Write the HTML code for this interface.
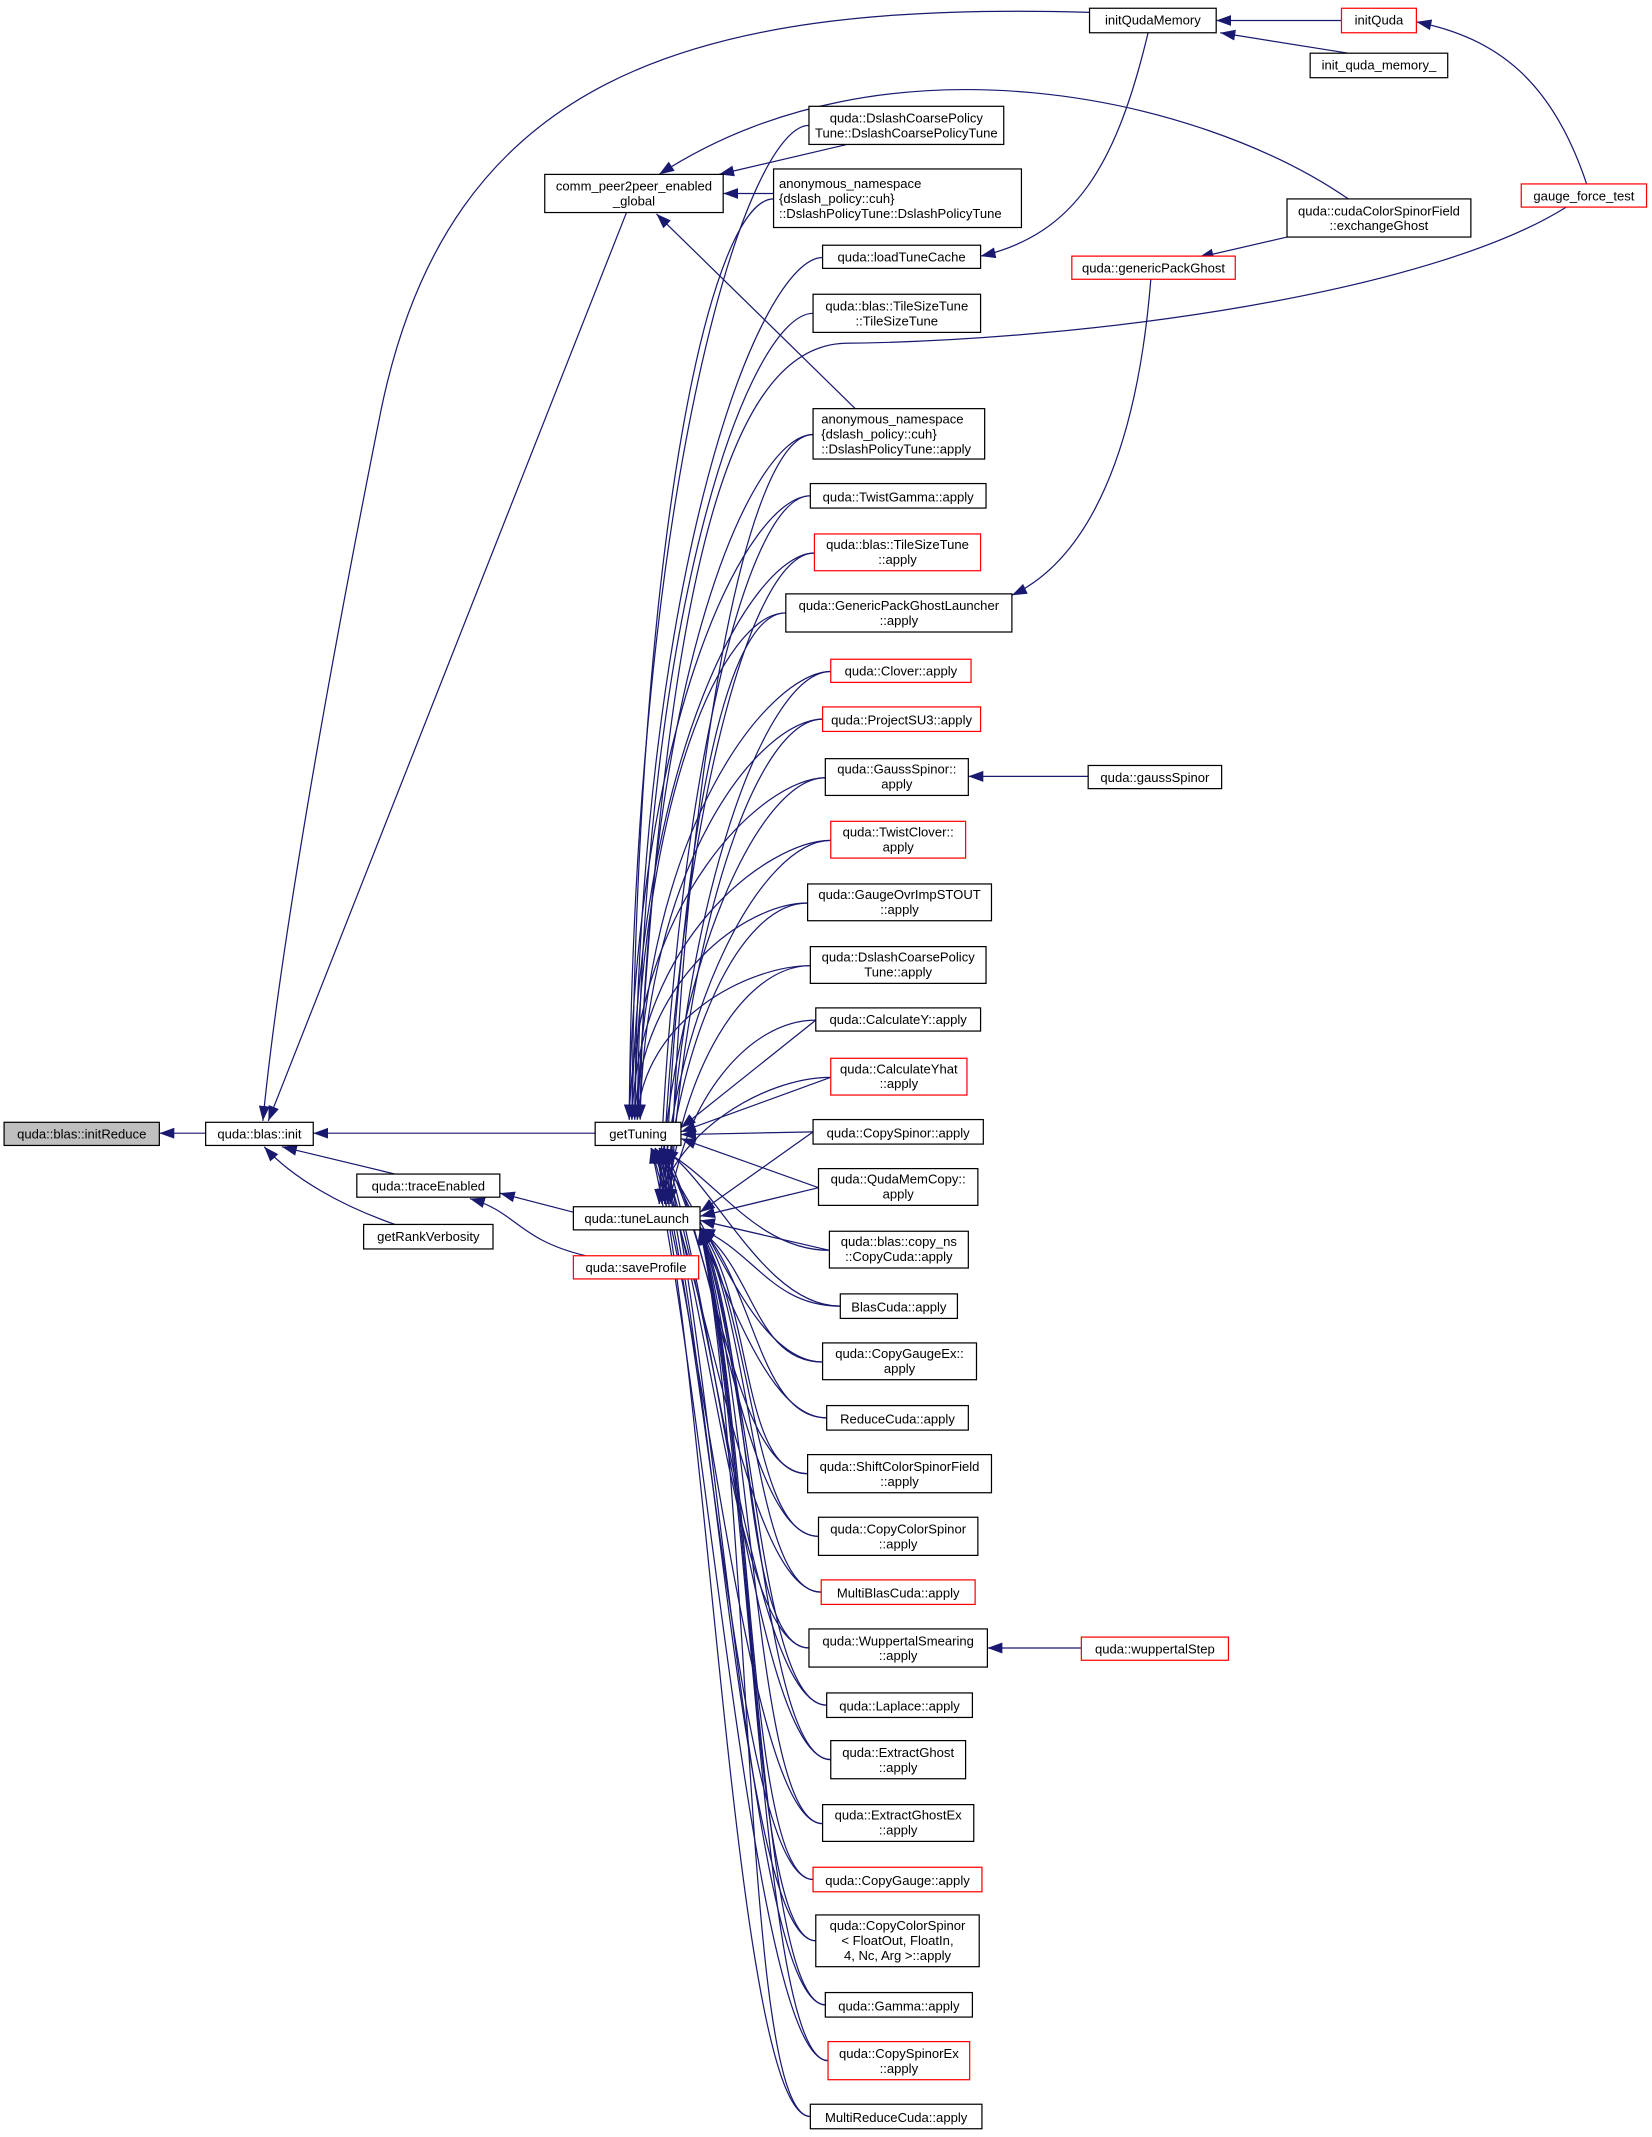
<!DOCTYPE html>
<html><head><meta charset="utf-8"><style>
html,body{margin:0;padding:0;background:#fff;}
svg{display:block;}
text{font-family:"Liberation Sans",Arial,sans-serif;font-size:9.6px;fill:#000;text-anchor:middle;}
text.l{text-anchor:start;}
</style></head><body>
<svg width="1652" height="2137" viewBox="0 0 1213 1569" xmlns="http://www.w3.org/2000/svg">
<defs><marker id="a" markerUnits="userSpaceOnUse" markerWidth="12" markerHeight="10" refX="11" refY="4" orient="auto"><path d="M0,0 L11,4 L0,8 Z" fill="#191970"/></marker></defs>
<g fill="none" stroke="#191970" stroke-width="0.9" marker-end="url(#a)">
<path d="M594,92 C549,92 466,348 462,822"/>
<path d="M568,146 C523,146 468,382 464,822"/>
<path d="M604,189 C559,189 470,410 466,822"/>
<path d="M597,230 C552,230 472,437 468,822"/>
<path d="M597,319 C552,319 474,495 470,822"/>
<path d="M595,364 C550,364 466,524 462,822"/>
<path d="M598,406 C553,406 468,551 464,822"/>
<path d="M577,450 C532,450 470,580 466,822"/>
<path d="M610,493 C565,493 472,608 468,822"/>
<path d="M604,528 C559,528 474,631 470,822"/>
<path d="M606,571 C561,571 466,659 462,822"/>
<path d="M610,617 C565,617 468,688 464,822"/>
<path d="M593,663 C548,663 470,718 466,822"/>
<path d="M595,709 C550,709 472,748 468,822"/>
<path d="M599,749 L500,828"/>
<path d="M610,791 L500,831"/>
<path d="M597,831 L500,833"/>
<path d="M601,872 L500,836"/>
<path d="M609,918 C554,918 524,862 484,843"/>
<path d="M617,959 C562,959 527,872 487,843"/>
<path d="M604,1000 C549,1000 518,882 478,843"/>
<path d="M607,1041 C552,1041 521,892 481,843"/>
<path d="M593,1082 C538,1082 524,903 484,843"/>
<path d="M601,1128 C546,1128 527,914 487,843"/>
<path d="M603,1169 C548,1169 518,925 478,843"/>
<path d="M594,1210 C539,1210 521,935 481,843"/>
<path d="M607,1252 C552,1252 524,945 484,843"/>
<path d="M610,1292 C555,1292 527,955 487,843"/>
<path d="M604,1339 C549,1339 518,967 478,843"/>
<path d="M597,1380 C542,1380 521,977 481,843"/>
<path d="M599,1425 C544,1425 524,989 484,843"/>
<path d="M606,1472 C551,1472 527,1000 487,843"/>
<path d="M608,1513 C553,1513 518,1011 478,843"/>
<path d="M595,1554 C540,1554 521,1021 481,843"/>
<path d="M597,319 C547,319 502,573 492,884"/>
<path d="M595,364 C545,364 494,598 484,884"/>
<path d="M598,406 C548,406 496,621 486,884"/>
<path d="M577,450 C527,450 498,645 488,884"/>
<path d="M610,493 C560,493 500,669 490,884"/>
<path d="M604,528 C554,528 502,688 492,884"/>
<path d="M606,571 C556,571 494,712 484,884"/>
<path d="M610,617 C560,617 496,737 486,884"/>
<path d="M593,663 C543,663 498,762 488,884"/>
<path d="M595,709 C545,709 500,787 490,884"/>
<path d="M599,749 C549,749 502,809 492,884"/>
<path d="M610,791 C560,791 494,833 484,884"/>
<path d="M597,831 L514,890"/>
<path d="M601,872 L514,893"/>
<path d="M609,918 L514,896"/>
<path d="M617,959 C567,959 554,919 514,902"/>
<path d="M604,1000 C554,1000 554,932 514,903"/>
<path d="M607,1041 C557,1041 554,943 514,901"/>
<path d="M593,1082 C543,1082 554,956 514,902"/>
<path d="M601,1128 C551,1128 554,970 514,903"/>
<path d="M603,1169 C553,1169 554,981 514,901"/>
<path d="M594,1210 C544,1210 554,994 514,902"/>
<path d="M607,1252 C557,1252 554,1008 514,903"/>
<path d="M610,1292 C560,1292 554,1018 514,901"/>
<path d="M604,1339 C554,1339 554,1033 514,902"/>
<path d="M597,1380 C547,1380 554,1046 514,903"/>
<path d="M599,1425 C549,1425 554,1058 514,901"/>
<path d="M606,1472 C556,1472 554,1073 514,902"/>
<path d="M608,1513 C558,1513 554,1086 514,903"/>
<path d="M595,1554 C545,1554 554,1097 514,901"/>
<path d="M151,832 L117,832"/>
<path d="M437,832 L230,832"/>
<path d="M290,862 L207,842"/>
<path d="M290,899 C250,885 215,865 194,842"/>
<path d="M460,156 L197,823"/>
<path d="M800,9 C500,0 330,60 280,300 C240,500 205,700 193,823"/>
<path d="M421,890 L367,876"/>
<path d="M430,922 C380,910 380,890 345,880"/>
<path d="M622,106 L528,128"/>
<path d="M568,142 L531,142"/>
<path d="M628,300 L482,157"/>
<path d="M990,146 C880,70 650,20 484,128"/>
<path d="M985,15 L893,15"/>
<path d="M990,39 L896,24"/>
<path d="M1165,135 C1140,60 1100,28 1040,16"/>
<path d="M1150,152 C1050,215 800,250 620,252 C540,255 490,400 468,822"/>
<path d="M843,24 C820,120 790,172 720,188"/>
<path d="M945,174 L880,189"/>
<path d="M845,205 C835,330 800,410 743,437"/>
<path d="M799,570 L711,570"/>
<path d="M794,1210 L725,1210"/>
</g>
<g stroke-width="0.9" fill="#fff" stroke="#000">
<rect x="3" y="824" width="114" height="17" fill="#bfbfbf"/>
<rect x="151" y="824" width="79" height="17"/>
<rect x="437" y="824" width="63" height="17"/>
<rect x="262" y="862" width="105" height="17"/>
<rect x="267" y="899" width="95" height="18"/>
<rect x="421" y="886" width="93" height="17"/>
<rect x="421" y="922" width="92" height="17" stroke="#f00"/>
<rect x="400" y="128" width="131" height="28"/>
<rect x="800" y="6" width="93" height="18"/>
<rect x="985" y="6" width="55" height="18" stroke="#f00"/>
<rect x="962" y="39" width="101" height="18"/>
<rect x="1117" y="135" width="92" height="17" stroke="#f00"/>
<rect x="945" y="146" width="135" height="28"/>
<rect x="787" y="188" width="120" height="17" stroke="#f00"/>
<rect x="799" y="562" width="98" height="17"/>
<rect x="794" y="1202" width="108" height="17" stroke="#f00"/>
<rect x="594" y="78" width="143" height="28"/>
<rect x="568" y="124" width="182" height="43"/>
<rect x="604" y="180" width="116" height="17"/>
<rect x="597" y="216" width="123" height="28"/>
<rect x="597" y="300" width="126" height="37"/>
<rect x="595" y="355" width="129" height="18"/>
<rect x="598" y="392" width="122" height="27" stroke="#f00"/>
<rect x="577" y="436" width="166" height="28"/>
<rect x="610" y="484" width="103" height="17" stroke="#f00"/>
<rect x="604" y="519" width="116" height="18" stroke="#f00"/>
<rect x="606" y="557" width="105" height="27"/>
<rect x="610" y="603" width="99" height="27" stroke="#f00"/>
<rect x="593" y="649" width="135" height="27"/>
<rect x="595" y="695" width="129" height="27"/>
<rect x="599" y="740" width="121" height="17"/>
<rect x="610" y="777" width="100" height="27" stroke="#f00"/>
<rect x="597" y="822" width="125" height="18"/>
<rect x="601" y="858" width="117" height="27"/>
<rect x="609" y="904" width="102" height="27"/>
<rect x="617" y="950" width="86" height="18"/>
<rect x="604" y="986" width="113" height="27"/>
<rect x="607" y="1032" width="104" height="18"/>
<rect x="593" y="1068" width="135" height="28"/>
<rect x="601" y="1114" width="117" height="28"/>
<rect x="603" y="1160" width="113" height="18" stroke="#f00"/>
<rect x="594" y="1196" width="131" height="28"/>
<rect x="607" y="1243" width="107" height="18"/>
<rect x="610" y="1278" width="99" height="28"/>
<rect x="604" y="1325" width="111" height="27"/>
<rect x="597" y="1371" width="124" height="18" stroke="#f00"/>
<rect x="599" y="1406" width="120" height="38"/>
<rect x="606" y="1463" width="108" height="18"/>
<rect x="608" y="1499" width="104" height="28" stroke="#f00"/>
<rect x="595" y="1545" width="126" height="18"/>
</g>
<g>
<text x="60" y="836">quda::blas::initReduce</text>
<text x="190.5" y="836">quda::blas::init</text>
<text x="468.5" y="836">getTuning</text>
<text x="314.5" y="874">quda::traceEnabled</text>
<text x="314.5" y="911">getRankVerbosity</text>
<text x="467.5" y="898">quda::tuneLaunch</text>
<text x="467" y="934">quda::saveProfile</text>
<text x="465.5" y="140">comm_peer2peer_enabled</text>
<text x="465.5" y="151">_global</text>
<text x="846.5" y="18">initQudaMemory</text>
<text x="1012.5" y="18">initQuda</text>
<text x="1012.5" y="51">init_quda_memory_</text>
<text x="1163" y="147">gauge_force_test</text>
<text x="1012.5" y="158">quda::cudaColorSpinorField</text>
<text x="1012.5" y="169">::exchangeGhost</text>
<text x="847" y="200">quda::genericPackGhost</text>
<text x="848" y="574">quda::gaussSpinor</text>
<text x="848" y="1214">quda::wuppertalStep</text>
<text x="665.5" y="90">quda::DslashCoarsePolicy</text>
<text x="665.5" y="101">Tune::DslashCoarsePolicyTune</text>
<text class="l" x="572" y="138">anonymous_namespace</text>
<text class="l" x="572" y="149">{dslash_policy::cuh}</text>
<text class="l" x="572" y="160">::DslashPolicyTune::DslashPolicyTune</text>
<text x="662" y="192">quda::loadTuneCache</text>
<text x="658.5" y="228">quda::blas::TileSizeTune</text>
<text x="658.5" y="239">::TileSizeTune</text>
<text class="l" x="603" y="311">anonymous_namespace</text>
<text class="l" x="603" y="322">{dslash_policy::cuh}</text>
<text class="l" x="603" y="333">::DslashPolicyTune::apply</text>
<text x="659.5" y="368">quda::TwistGamma::apply</text>
<text x="659" y="403">quda::blas::TileSizeTune</text>
<text x="659" y="414">::apply</text>
<text x="660" y="448">quda::GenericPackGhostLauncher</text>
<text x="660" y="459">::apply</text>
<text x="661.5" y="496">quda::Clover::apply</text>
<text x="662" y="532">quda::ProjectSU3::apply</text>
<text x="658.5" y="568">quda::GaussSpinor::</text>
<text x="658.5" y="579">apply</text>
<text x="659.5" y="614">quda::TwistClover::</text>
<text x="659.5" y="625">apply</text>
<text x="660.5" y="660">quda::GaugeOvrImpSTOUT</text>
<text x="660.5" y="671">::apply</text>
<text x="659.5" y="706">quda::DslashCoarsePolicy</text>
<text x="659.5" y="717">Tune::apply</text>
<text x="659.5" y="752">quda::CalculateY::apply</text>
<text x="660" y="788">quda::CalculateYhat</text>
<text x="660" y="799">::apply</text>
<text x="659.5" y="835">quda::CopySpinor::apply</text>
<text x="659.5" y="869">quda::QudaMemCopy::</text>
<text x="659.5" y="880">apply</text>
<text x="660" y="915">quda::blas::copy_ns</text>
<text x="660" y="926">::CopyCuda::apply</text>
<text x="660" y="963">BlasCuda::apply</text>
<text x="660.5" y="997">quda::CopyGaugeEx::</text>
<text x="660.5" y="1008">apply</text>
<text x="659" y="1045">ReduceCuda::apply</text>
<text x="660.5" y="1080">quda::ShiftColorSpinorField</text>
<text x="660.5" y="1091">::apply</text>
<text x="659.5" y="1126">quda::CopyColorSpinor</text>
<text x="659.5" y="1137">::apply</text>
<text x="659.5" y="1173">MultiBlasCuda::apply</text>
<text x="659.5" y="1208">quda::WuppertalSmearing</text>
<text x="659.5" y="1219">::apply</text>
<text x="660.5" y="1256">quda::Laplace::apply</text>
<text x="659.5" y="1290">quda::ExtractGhost</text>
<text x="659.5" y="1301">::apply</text>
<text x="659.5" y="1336">quda::ExtractGhostEx</text>
<text x="659.5" y="1347">::apply</text>
<text x="659" y="1384">quda::CopyGauge::apply</text>
<text x="659" y="1417">quda::CopyColorSpinor</text>
<text x="659" y="1428">&lt; FloatOut, FloatIn,</text>
<text x="659" y="1439">4, Nc, Arg &gt;::apply</text>
<text x="660" y="1476">quda::Gamma::apply</text>
<text x="660" y="1511">quda::CopySpinorEx</text>
<text x="660" y="1522">::apply</text>
<text x="658" y="1558">MultiReduceCuda::apply</text>
</g>
</svg>
</body></html>
